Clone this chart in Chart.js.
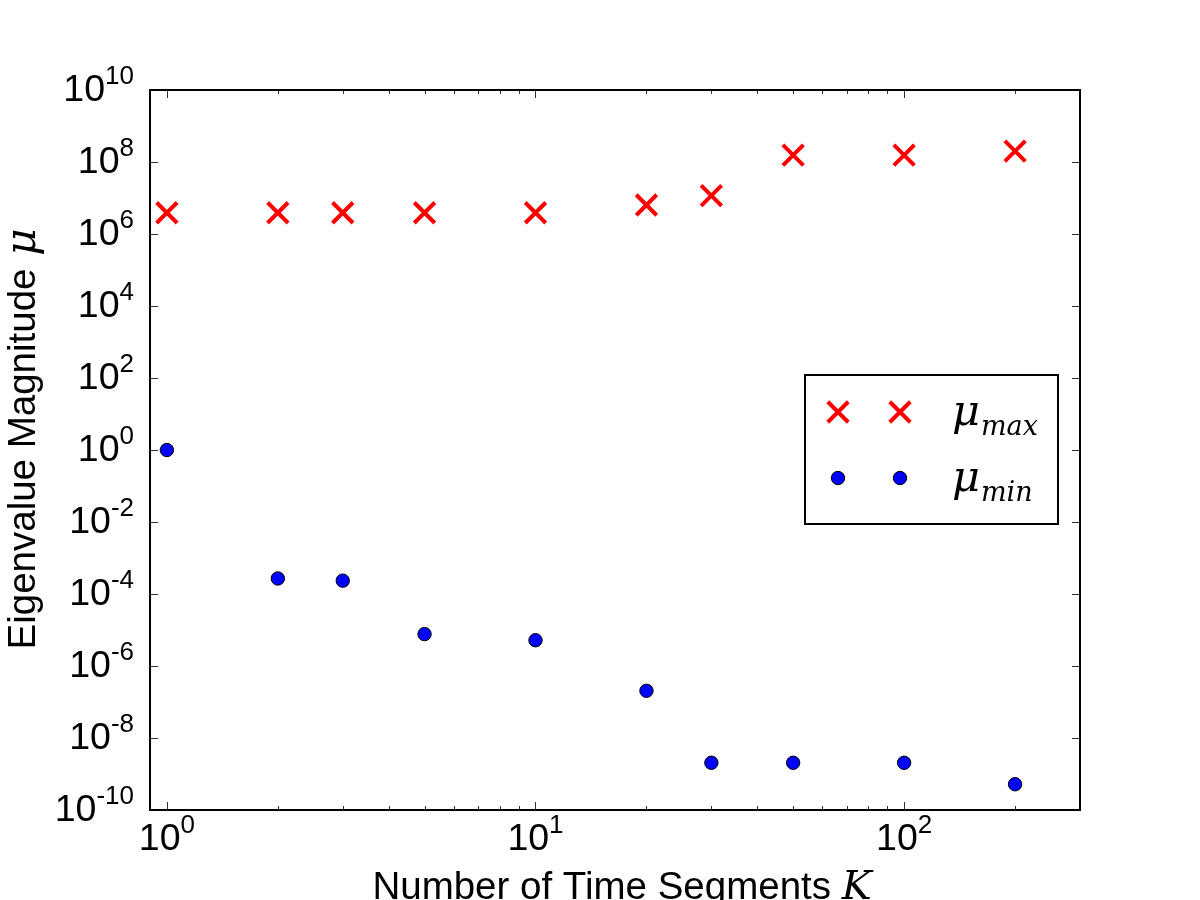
<!DOCTYPE html>
<html><head><meta charset="utf-8">
<script src="https://cdn.jsdelivr.net/npm/chart.js@4/dist/chart.umd.min.js"></script>
<style>html,body{margin:0;padding:0;background:#fff}#wrap{width:1200px;height:900px}</style>
</head><body><div id="wrap"><canvas id="c" width="1200" height="900"></canvas></div>
<script>
// ---- data ----
const segments = [1, 2, 3, 5, 10, 20, 30, 50, 100, 200];
const muMax = [3.9e6, 3.9e6, 3.9e6, 3.9e6, 3.9e6, 6.4e6, 1.16e7, 1.55e8, 1.55e8, 2.0e8];
const muMin = [1.0, 2.7e-4, 2.35e-4, 7.7e-6, 5.2e-6, 2.05e-7, 2.05e-9, 2.05e-9, 2.05e-9, 5.2e-10];
const xMajorTicks = [1, 10, 100];
const xMinorTicks = [2, 3, 4, 5, 6, 7, 8, 9, 20, 30, 40, 50, 60, 70, 80, 90, 200, 300];
const yMajorTicks = [1e-10, 1e-8, 1e-6, 1e-4, 1e-2, 1, 1e2, 1e4, 1e6, 1e8, 1e10];
const seriesNames = [['μ', 'max'], ['μ', 'min']];
const xTitle = ['Number of Time Segments ', 'K'];
const yTitle = ['Eigenvalue Magnitude ', 'μ'];

const SANS = '"Liberation Sans", Arial, sans-serif';
const MATH = '"DejaVu Serif", serif';
const BIG = 37.5, SUP = 26, TITLE = 38.5;

function drawPow(ctx, exp, x, baseY, align) {
  ctx.fillStyle = '#000';
  ctx.textBaseline = 'alphabetic';
  ctx.textAlign = 'left';
  ctx.font = BIG + 'px ' + SANS;
  const w1 = ctx.measureText('10').width;
  ctx.font = SUP + 'px ' + SANS;
  const es = String(exp);
  const w2 = ctx.measureText(es).width;
  let sx = align === 'right' ? x - (w1 + w2) : x - (w1 + w2) / 2;
  ctx.font = BIG + 'px ' + SANS;
  ctx.fillText('10', sx, baseY);
  ctx.font = SUP + 'px ' + SANS;
  ctx.fillText(es, sx + w1, baseY - 17);
}

const decor = {
  id: 'decor',
  afterDraw(chart) {
    const ctx = chart.ctx;
    const a = chart.chartArea;
    const xs = chart.scales.x, ys = chart.scales.y;
    ctx.save();
    // ticks
    ctx.strokeStyle = '#333';
    ctx.lineWidth = 1;
    ctx.beginPath();
    xs.ticks.forEach(t => {
      const px = Math.round(xs.getPixelForValue(t.value)) + 0.5;
      const len = t.major ? 8 : 4;
      ctx.moveTo(px, a.bottom); ctx.lineTo(px, a.bottom - len);
      ctx.moveTo(px, a.top); ctx.lineTo(px, a.top + len);
    });
    ys.ticks.forEach(t => {
      const py = Math.round(ys.getPixelForValue(t.value)) + 0.5;
      ctx.moveTo(a.left, py); ctx.lineTo(a.left + 8, py);
      ctx.moveTo(a.right, py); ctx.lineTo(a.right - 8, py);
    });
    ctx.stroke();
    // frame
    ctx.strokeStyle = '#000';
    ctx.lineWidth = 2;
    ctx.strokeRect(a.left, a.top, a.right - a.left, a.bottom - a.top);
    // tick labels
    xs.ticks.forEach(t => {
      if (!t.major) return;
      const px = xs.getPixelForValue(t.value);
      drawPow(ctx, Math.round(Math.log10(t.value)), px, a.bottom + 40, 'center');
    });
    ys.ticks.forEach(t => {
      const py = ys.getPixelForValue(t.value);
      drawPow(ctx, Math.round(Math.log10(t.value)), a.left - 16, py + 11, 'right');
    });
    // x title
    ctx.fillStyle = '#000';
    ctx.textBaseline = 'alphabetic';
    ctx.textAlign = 'left';
    ctx.font = TITLE + 'px ' + SANS;
    const tw1 = ctx.measureText(xTitle[0]).width;
    ctx.font = 'italic 40px ' + MATH;
    const tw2 = ctx.measureText(xTitle[1]).width;
    let sx = (a.left + a.right) / 2 + 7 - (tw1 + tw2) / 2;
    ctx.font = TITLE + 'px ' + SANS;
    ctx.fillText(xTitle[0], sx, 899);
    ctx.font = 'italic 40px ' + MATH;
    ctx.fillText(xTitle[1], sx + tw1, 899);
    // y title
    ctx.save();
    ctx.translate(35, 440);
    ctx.rotate(-Math.PI / 2);
    ctx.font = TITLE + 'px ' + SANS;
    const yw1 = ctx.measureText(yTitle[0]).width;
    ctx.font = 'italic 42px ' + MATH;
    const yw2 = ctx.measureText(yTitle[1]).width;
    const ys0 = -(yw1 + yw2) / 2;
    ctx.font = TITLE + 'px ' + SANS;
    ctx.fillText(yTitle[0], ys0, 0);
    ctx.font = 'italic 42px ' + MATH;
    ctx.fillText(yTitle[1], ys0 + yw1 + 2, 0);
    ctx.restore();
    // legend
    const lx = 805, ly = 375, lw = 253, lh = 149;
    ctx.fillStyle = '#fff';
    ctx.fillRect(lx, ly, lw, lh);
    ctx.strokeStyle = '#000';
    ctx.lineWidth = 2;
    ctx.strokeRect(lx, ly, lw, lh);
    const rows = [412, 478];
    chart.data.datasets.forEach((ds, i) => {
      const opts = {
        pointStyle: ds.pointStyle, radius: ds.pointRadius,
        borderWidth: ds.pointBorderWidth, rotation: 0
      };
      [838, 900].forEach(mx => {
        ctx.fillStyle = ds.pointBackgroundColor;
        ctx.strokeStyle = ds.pointBorderColor;
        ctx.lineWidth = ds.pointBorderWidth;
        Chart.helpers.drawPoint(ctx, opts, mx, rows[i]);
      });
      ctx.fillStyle = '#000';
      ctx.textAlign = 'left';
      ctx.font = 'italic 43px ' + MATH;
      ctx.fillText(seriesNames[i][0], 952, rows[i] + 13);
      const mw = ctx.measureText(seriesNames[i][0]).width;
      ctx.font = 'italic 27px ' + MATH;
      ctx.fillText(seriesNames[i][1], 952 + mw + 1, rows[i] + 23);
    });
    ctx.restore();
  }
};

function setTicks(list) {
  return function (scale) {
    scale.ticks = list.map(v => ({ value: v, major: xMajorTicks.includes(v) || list === yMajorTicks }));
  };
}
const xAll = xMajorTicks.concat(xMinorTicks).sort((p, q) => p - q);

new Chart(document.getElementById('c'), {
  type: 'scatter',
  data: {
    datasets: [
      {
        label: 'mu_max',
        data: segments.map((k, i) => ({ x: k, y: muMax[i] })),
        pointStyle: 'crossRot',
        pointRadius: 14.5,
        pointHoverRadius: 14.5,
        pointBorderWidth: 4,
        pointHoverBorderWidth: 4,
        pointBorderColor: '#ff0000',
        pointBackgroundColor: '#ff0000',
        showLine: false
      },
      {
        label: 'mu_min',
        data: segments.map((k, i) => ({ x: k, y: muMin[i] })),
        pointStyle: 'circle',
        pointRadius: 6.7,
        pointHoverRadius: 6.7,
        pointBorderWidth: 1,
        pointHoverBorderWidth: 1,
        pointBorderColor: '#000000',
        pointBackgroundColor: '#0000ff',
        showLine: false
      }
    ]
  },
  options: {
    responsive: false,
    animation: false,
    devicePixelRatio: 1,
    events: [],
    layout: { padding: { top: 90, right: 120, left: 0, bottom: 0 } },
    plugins: { legend: { display: false }, tooltip: { enabled: false } },
    scales: {
      x: {
        type: 'logarithmic', min: 0.9, max: 300, position: 'bottom',
        ticks: { display: false, autoSkip: false },
        grid: { display: false }, border: { display: false },
        afterBuildTicks: setTicks(xAll),
        afterFit: s => { s.height = 90; }
      },
      y: {
        type: 'logarithmic', min: 1e-10, max: 1e10, position: 'left',
        ticks: { display: false, autoSkip: false },
        grid: { display: false }, border: { display: false },
        afterBuildTicks: setTicks(yMajorTicks),
        afterFit: s => { s.width = 150; }
      }
    }
  },
  plugins: [decor]
});
</script>
</body></html>
